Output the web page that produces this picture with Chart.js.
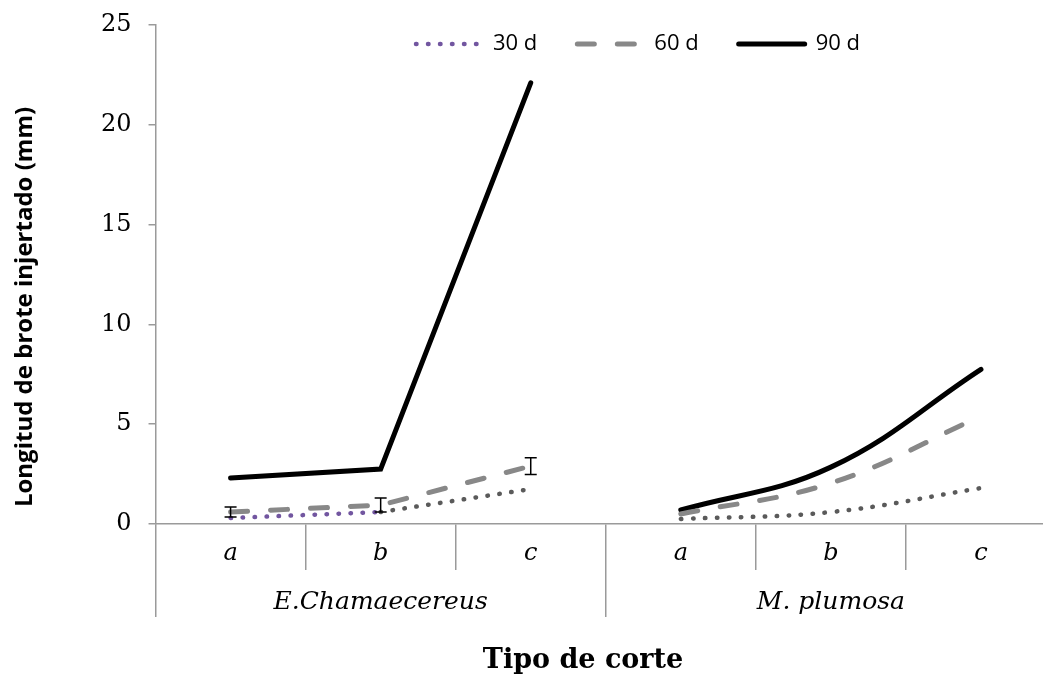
<!DOCTYPE html>
<html>
<head>
<meta charset="utf-8">
<script src="https://cdn.jsdelivr.net/npm/chart.js@4.4.0/dist/chart.umd.min.js"></script>
<style>
    html, body { margin: 0; padding: 0; background: #fff; overflow: hidden; }
    #wrap { width: 1060px; height: 675px; }
</style>
</head>
<body>
<div id="wrap"><canvas id="shootChart"></canvas></div>
<script>
// data
const categories = ['a', 'b', 'c', 'a', 'b', 'c'];
const groups = ['E.Chamaecereus', 'M. plumosa'];
const seriesNames = ['30 d', '60 d', '90 d'];
const days30 = [0.3, 0.6, 1.75, 0.25, 0.6, 1.8];
const days60 = [0.6, 0.95, 2.9, 0.5, 2.05, 5.4];
const days90 = [2.3, 2.75, 22.1, 0.7, 2.85, 7.75];
const days60Err = [0.25, 0.35, 0.42, null, null, null];
const yTicks = [0, 5, 10, 15, 20, 25];

const serif = '"DejaVu Serif", serif';
const sans = '"Open Sans", sans-serif';
const axisGray = '#9a9a9a';

// keep only the values of one group, the rest is null so the line breaks
function onlyGroup(values, g) {
    return values.map(function (v, i) { return Math.floor(i / 3) === g ? v : null; });
}

function makeSets(g) {
    return [{
        label: seriesNames[0],
        data: onlyGroup(days30, g),
        borderColor: '#7256a0',
        borderWidth: 4.5,
        borderDash: [0.5, 11.5],
        borderCapStyle: 'round',
        tension: g === 0 ? 0 : 0.4,
        segment: {
            borderColor: function (ctx) { return (g === 1 || ctx.p0DataIndex >= 1) ? '#5a5a5a' : undefined; }
        }
    }, {
        label: seriesNames[1],
        data: onlyGroup(days60, g),
        borderColor: '#888888',
        borderWidth: 5,
        borderDash: [17, 23],
        borderCapStyle: 'round',
        tension: g === 0 ? 0 : 0.4
    }, {
        label: seriesNames[2],
        data: onlyGroup(days90, g),
        borderColor: '#000000',
        borderWidth: 5,
        borderCapStyle: 'round',
        tension: g === 0 ? 0 : 0.4
    }];
}

// error bars on the 60 d line of the first group
const errorBars = {
    id: 'errorBars',
    afterDatasetsDraw(chart) {
        const meta = chart.getDatasetMeta(1);
        const y = chart.scales.y;
        const ctx = chart.ctx;
        ctx.save();
        ctx.strokeStyle = '#000';
        ctx.lineWidth = 1.5;
        days60Err.forEach(function (e, i) {
            if (e == null) return;
            const x = meta.data[i].x;
            const top = y.getPixelForValue(days60[i] + e);
            const bot = y.getPixelForValue(days60[i] - e);
            ctx.beginPath();
            ctx.moveTo(x, top); ctx.lineTo(x, bot);
            ctx.moveTo(x - 6, top); ctx.lineTo(x + 6, top);
            ctx.moveTo(x - 6, bot); ctx.lineTo(x + 6, bot);
            ctx.stroke();
        });
        ctx.restore();
    }
};

// legend sits inside the plot, a bit right of centre
const legendShift = {
    id: 'legendShift',
    afterLayout(chart) {
        const lg = chart.legend;
        lg.left += 68; lg.right += 68;
        lg.top += 40; lg.bottom += 40;
    }
};

// axis titles
const axisTitles = {
    id: 'axisTitles',
    afterDraw(chart) {
        const ctx = chart.ctx;
        ctx.save();
        ctx.fillStyle = '#000';
        ctx.textAlign = 'center';
        ctx.textBaseline = 'middle';
        ctx.font = 'bold 27px ' + serif;
        ctx.fillText('Tipo de corte', 583, 661);
        ctx.translate(25, 307);
        ctx.rotate(-Math.PI / 2);
        ctx.font = 'bold 24px ' + sans;
        ctx.fillText('Longitud de brote injertado (mm)', 0, 0);
        ctx.restore();
    }
};

const ctx = document.getElementById('shootChart').getContext('2d');
const shootChart = new Chart(ctx, {
    type: 'line',
    data: {
        labels: categories,
        datasets: makeSets(0).concat(makeSets(1))
    },
    options: {
        responsive: true,
        maintainAspectRatio: false,
        animation: false,
        events: [],
        layout: { padding: { left: 84, right: 4, top: -47, bottom: 58 } },
        elements: { point: { radius: 0 } },
        scales: {
            x: {
                type: 'category',
                weight: 0,
                offset: true,
                grid: { offset: true, drawOnChartArea: false, tickLength: 46, color: axisGray, lineWidth: 1.5 },
                border: { display: true, color: axisGray, width: 1.5 },
                ticks: { padding: -31, color: '#000', font: { family: serif, size: 24, style: 'italic' } },
                afterFit: function (scale) { scale.height = 46; }
            },
            x2: {
                type: 'category',
                position: 'bottom',
                weight: 1,
                labels: groups,
                offset: true,
                grid: { offset: true, drawOnChartArea: false, tickLength: 47, color: axisGray, lineWidth: 1.5 },
                border: { display: false },
                ticks: { padding: -30, color: '#000', font: { family: serif, size: 25, style: 'italic' } },
                afterFit: function (scale) { scale.height = 47; }
            },
            y: {
                min: yTicks[0],
                max: yTicks[yTicks.length - 1],
                afterBuildTicks: function (axis) { axis.ticks = yTicks.map(function (v) { return { value: v }; }); },
                afterFit: function (scale) { scale.paddingTop = 0; scale.paddingBottom = 0; },
                grid: { drawOnChartArea: false, tickLength: 7, color: axisGray, lineWidth: 1.5 },
                border: { display: true, color: axisGray, width: 1.5 },
                ticks: { padding: 17, color: '#000', font: { family: serif, size: 24 } }
            }
        },
        plugins: {
            legend: {
                position: 'top',
                labels: {
                    usePointStyle: true,
                    pointStyleWidth: 66,
                    padding: 40,
                    color: '#000',
                    font: { family: sans, size: 22 },
                    generateLabels: function (chart) {
                        return chart.data.datasets.slice(0, 3).map(function (ds, i) {
                            return {
                                text: ds.label,
                                datasetIndex: i,
                                strokeStyle: ds.borderColor,
                                fillStyle: ds.borderColor,
                                lineWidth: ds.borderWidth,
                                lineDash: ds.borderDash || [],
                                lineCap: ds.borderCapStyle,
                                pointStyle: 'line',
                                hidden: false
                            };
                        });
                    }
                }
            },
            tooltip: { enabled: false }
        }
    },
    plugins: [errorBars, legendShift, axisTitles]
});
</script>
</body>
</html>
